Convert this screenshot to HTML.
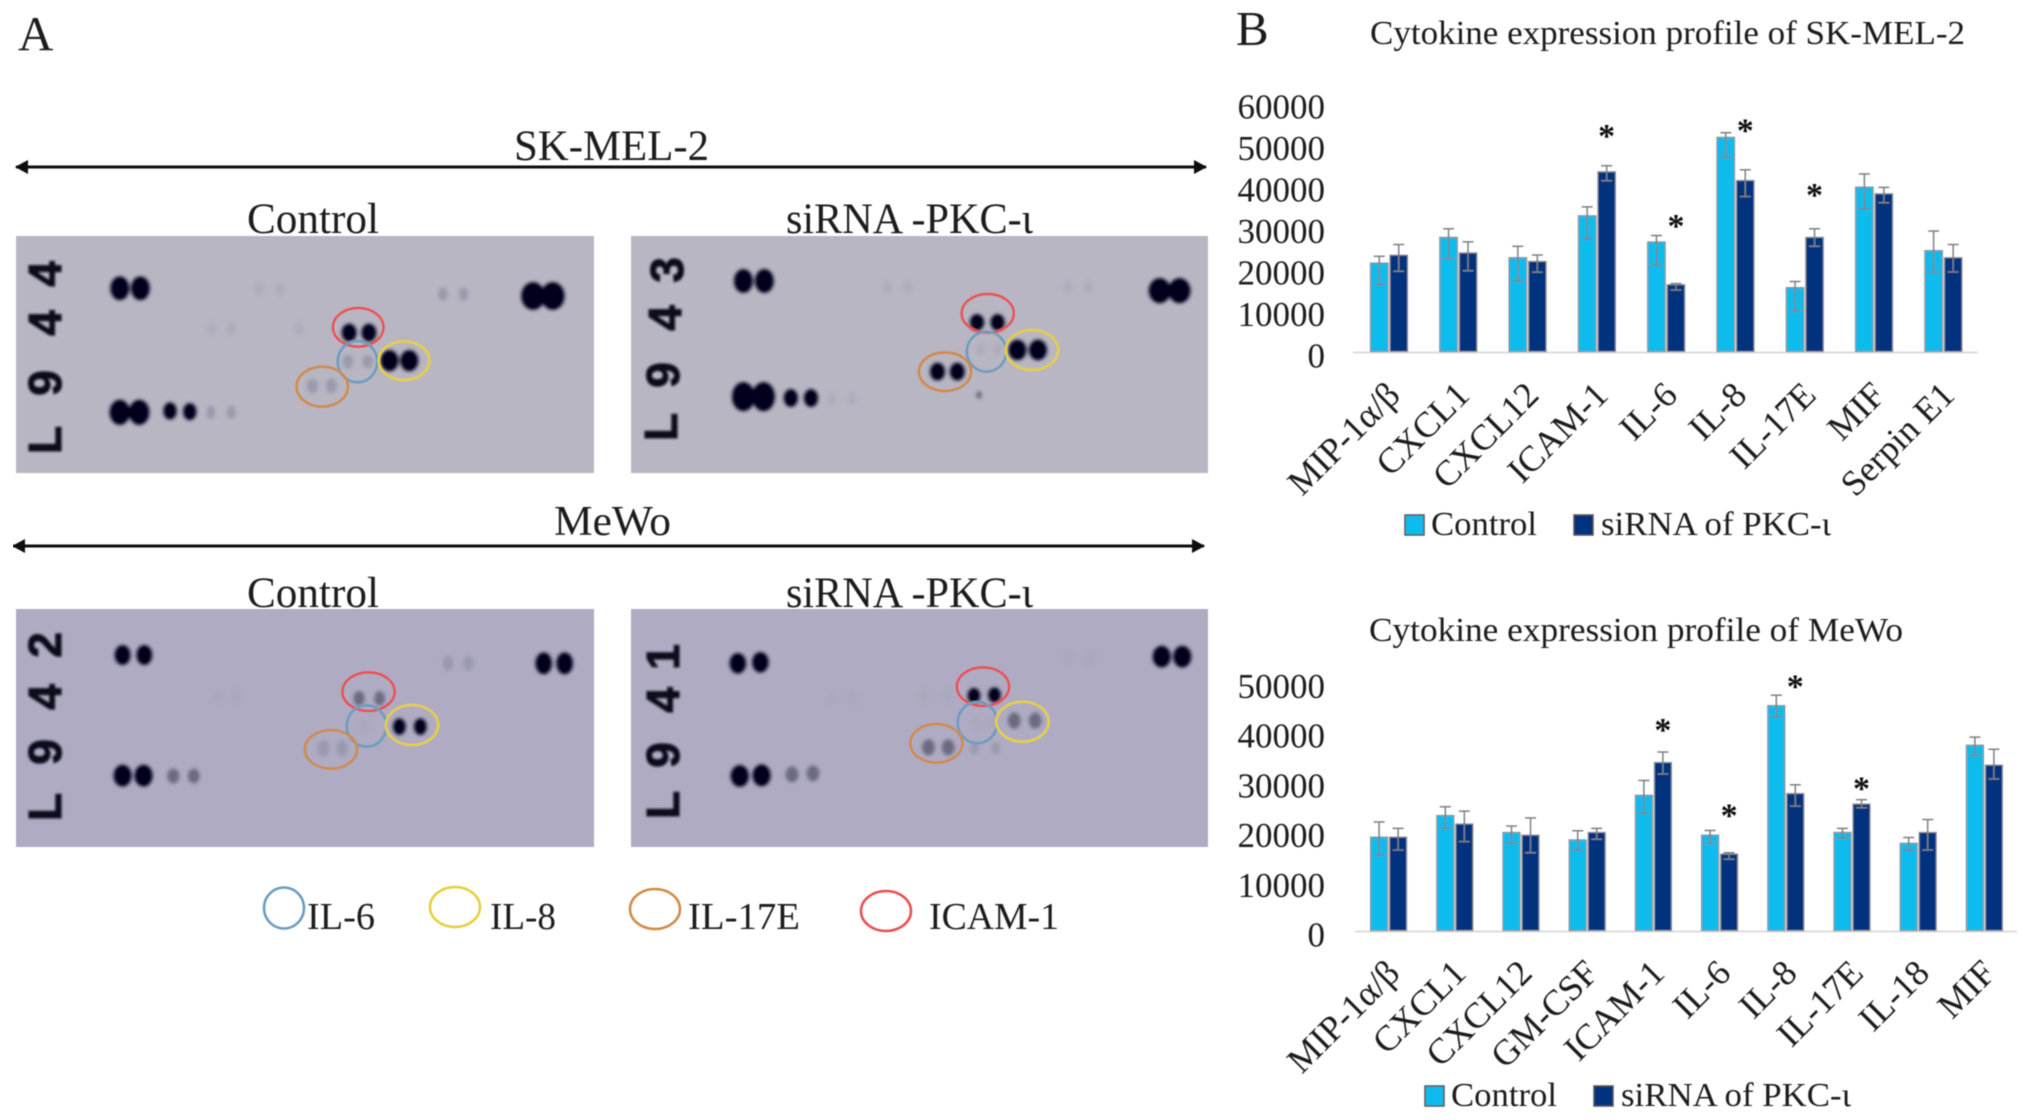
<!DOCTYPE html>
<html lang="en">
<head>
<meta charset="utf-8">
<title>Cytokine array and expression profiles</title>
<style>
html,body{margin:0;padding:0;background:#fff;width:2031px;height:1120px;overflow:hidden}
svg{display:block;font-family:"Liberation Serif",serif}
text{fill:#1c1c1c}
.d{fill:#05051c}.m{fill:#6a6a80}.f{fill:#9a9aac}.v{fill:#a8a6b6;opacity:.6}
.ring{fill:none;stroke-width:2.6;vector-effect:non-scaling-stroke}
.r{stroke:#e8504f}.b{stroke:#6a9cc0}.y{stroke:#e6cf3a}.o{stroke:#d08a45}
.num{font-family:"Liberation Sans",sans-serif;font-weight:bold;font-size:46px;text-anchor:middle;fill:#0a0a1a;stroke:#0a0a1a;stroke-width:1.2}
</style>
</head>
<body>
<svg id="figure" xmlns="http://www.w3.org/2000/svg" width="2031" height="1120" viewBox="0 0 2031 1120">
<defs>
<filter id="soft" x="0" y="0" width="100%" height="100%"><feGaussianBlur stdDeviation="0.55"/></filter>
<filter id="spotblur" x="-20%" y="-20%" width="140%" height="140%"><feGaussianBlur stdDeviation="4.5"/></filter>
<filter id="numblur" x="-20%" y="-20%" width="140%" height="140%"><feGaussianBlur stdDeviation="1"/></filter>
<marker id="arrowhead" markerUnits="userSpaceOnUse" markerWidth="14" markerHeight="16" refX="12" refY="8" orient="auto-start-reverse"><path d="M0 1L13 8L0 15Z" fill="#111"/></marker>
</defs>
<g id="root" filter="url(#soft)">
<text x="18" y="50" font-size="49">A</text>
<text x="1236" y="45" font-size="49">B</text>

<text x="514" y="160" font-size="43" textLength="195" lengthAdjust="spacingAndGlyphs">SK-MEL-2</text>
<line x1="16" y1="167" x2="1206" y2="167" stroke="#111" stroke-width="3" marker-start="url(#arrowhead)" marker-end="url(#arrowhead)"/>
<text x="247" y="233" font-size="43" textLength="132" lengthAdjust="spacingAndGlyphs">Control</text>
<text x="786" y="233" font-size="43" textLength="247" lengthAdjust="spacingAndGlyphs">siRNA -PKC-ι</text>

<text x="554" y="535" font-size="42" textLength="117" lengthAdjust="spacingAndGlyphs">MeWo</text>
<line x1="13" y1="546" x2="1204" y2="546" stroke="#111" stroke-width="3" marker-start="url(#arrowhead)" marker-end="url(#arrowhead)"/>
<text x="247" y="607" font-size="43" textLength="132" lengthAdjust="spacingAndGlyphs">Control</text>
<text x="786" y="607" font-size="43" textLength="247" lengthAdjust="spacingAndGlyphs">siRNA -PKC-ι</text>

<!-- Blot 1 -->
<g>
<rect x="16" y="236" width="578" height="237" fill="#b8b6c3"/>
<g transform="translate(0,120) scale(.3954,.3333)">
<g filter="url(#spotblur)">
<ellipse class="d" cx="303" cy="505" rx="24" ry="36"/><ellipse class="d" cx="355" cy="505" rx="24" ry="36"/>
<ellipse class="v" cx="655" cy="505" rx="12" ry="20"/><ellipse class="v" cx="708" cy="508" rx="12" ry="20"/>
<ellipse class="f" cx="1120" cy="522" rx="12" ry="20"/><ellipse class="f" cx="1172" cy="522" rx="12" ry="20"/>
<ellipse class="d" cx="1348" cy="528" rx="30" ry="42"/><ellipse class="d" cx="1398" cy="528" rx="30" ry="42"/>
<ellipse class="v" cx="535" cy="625" rx="12" ry="20"/><ellipse class="v" cx="585" cy="625" rx="12" ry="20"/><ellipse class="v" cx="755" cy="625" rx="12" ry="20"/>
<ellipse class="d" cx="883" cy="638" rx="19" ry="27"/><ellipse class="d" cx="933" cy="638" rx="19" ry="27"/>
<ellipse class="f" cx="880" cy="725" rx="13" ry="21"/><ellipse class="f" cx="930" cy="725" rx="13" ry="21"/>
<ellipse class="d" cx="985" cy="722" rx="23" ry="32"/><ellipse class="d" cx="1035" cy="722" rx="23" ry="32"/>
<ellipse class="f" cx="790" cy="798" rx="14" ry="22"/><ellipse class="f" cx="838" cy="798" rx="14" ry="22"/>
<ellipse class="d" cx="303" cy="877" rx="26" ry="38"/><ellipse class="d" cx="352" cy="877" rx="26" ry="38"/>
<ellipse class="d" cx="430" cy="873" rx="17" ry="26"/><ellipse class="d" cx="480" cy="875" rx="17" ry="26"/>
<ellipse class="f" cx="533" cy="877" rx="11" ry="20"/><ellipse class="f" cx="585" cy="877" rx="11" ry="20"/>
</g>
<ellipse class="ring r" cx="906" cy="622" rx="64" ry="58"/>
<ellipse class="ring b" cx="904" cy="725" rx="50" ry="62"/>
<ellipse class="ring y" cx="1022" cy="722" rx="64" ry="58"/>
<ellipse class="ring o" cx="815" cy="800" rx="65" ry="60"/>
</g>
<g filter="url(#numblur)">
<text class="num" transform="translate(61,440) rotate(-90)">L</text>
<text class="num" transform="translate(61,383) rotate(-90)">9</text>
<text class="num" transform="translate(61,323) rotate(-90)">4</text>
<text class="num" transform="translate(61,274) rotate(-90)">4</text>
</g>
</g>

<!-- Blot 2 -->
<g>
<rect x="631" y="236" width="577" height="237" fill="#b8b6c3"/>
<g transform="translate(620,120) scale(.3954,.3333)">
<g filter="url(#spotblur)">
<ellipse class="d" cx="312" cy="483" rx="24" ry="36"/><ellipse class="d" cx="365" cy="483" rx="24" ry="36"/>
<ellipse class="v" cx="675" cy="503" rx="12" ry="20"/><ellipse class="v" cx="727" cy="503" rx="12" ry="20"/>
<ellipse class="v" cx="1133" cy="500" rx="12" ry="20"/><ellipse class="v" cx="1185" cy="500" rx="12" ry="20"/>
<ellipse class="d" cx="1365" cy="512" rx="28" ry="38"/><ellipse class="d" cx="1415" cy="512" rx="28" ry="38"/>
<ellipse class="d" cx="903" cy="607" rx="18" ry="25"/><ellipse class="d" cx="955" cy="607" rx="18" ry="25"/>
<ellipse class="v" cx="912" cy="687" rx="12" ry="20"/><ellipse class="v" cx="955" cy="687" rx="12" ry="20"/>
<ellipse class="d" cx="1005" cy="690" rx="23" ry="31"/><ellipse class="d" cx="1057" cy="690" rx="23" ry="31"/>
<ellipse class="d" cx="803" cy="755" rx="19" ry="27"/><ellipse class="d" cx="853" cy="755" rx="19" ry="27"/>
<ellipse class="d" cx="312" cy="830" rx="29" ry="44"/><ellipse class="d" cx="363" cy="830" rx="29" ry="44"/>
<ellipse class="d" cx="432" cy="834" rx="18" ry="27"/><ellipse class="d" cx="483" cy="834" rx="18" ry="27"/>
<ellipse class="v" cx="535" cy="838" rx="11" ry="20"/><ellipse class="v" cx="587" cy="838" rx="11" ry="20"/>
<ellipse class="m" cx="908" cy="825" rx="7" ry="12"/>
</g>
<ellipse class="ring r" cx="930" cy="580" rx="66" ry="58"/>
<ellipse class="ring b" cx="927" cy="695" rx="50" ry="60"/>
<ellipse class="ring y" cx="1042" cy="690" rx="66" ry="60"/>
<ellipse class="ring o" cx="822" cy="755" rx="66" ry="58"/>
</g>
<g filter="url(#numblur)">
<text class="num" transform="translate(677,427) rotate(-90)">L</text>
<text class="num" transform="translate(679,375) rotate(-90)">9</text>
<text class="num" transform="translate(681,318) rotate(-90)">4</text>
<text class="num" transform="translate(683,270) rotate(-90)">3</text>
</g>
</g>

<!-- Blot 3 -->
<g>
<rect x="16" y="609" width="578" height="238" fill="#aeabc3"/>
<g transform="translate(0,500) scale(.3954,.3333)">
<g filter="url(#spotblur)">
<ellipse class="d" cx="310" cy="465" rx="20" ry="30"/><ellipse class="d" cx="365" cy="465" rx="20" ry="30"/>
<ellipse class="f" cx="1133" cy="490" rx="13" ry="22"/><ellipse class="f" cx="1185" cy="490" rx="13" ry="22"/>
<ellipse class="d" cx="1375" cy="490" rx="21" ry="33"/><ellipse class="d" cx="1428" cy="490" rx="21" ry="33"/>
<ellipse class="v" cx="548" cy="590" rx="11" ry="20"/><ellipse class="v" cx="597" cy="590" rx="11" ry="20"/>
<ellipse class="m" cx="908" cy="595" rx="14" ry="22"/><ellipse class="m" cx="960" cy="595" rx="13" ry="22"/>
<ellipse class="v" cx="920" cy="680" rx="12" ry="20"/>
<ellipse class="d" cx="1010" cy="680" rx="16" ry="25"/><ellipse class="d" cx="1063" cy="680" rx="16" ry="25"/>
<ellipse class="f" cx="818" cy="745" rx="15" ry="25"/><ellipse class="f" cx="865" cy="745" rx="14" ry="25"/>
<ellipse class="d" cx="310" cy="827" rx="23" ry="33"/><ellipse class="d" cx="363" cy="827" rx="23" ry="33"/>
<ellipse class="m" cx="438" cy="828" rx="15" ry="22"/><ellipse class="m" cx="490" cy="828" rx="15" ry="22"/>
</g>
<ellipse class="ring r" cx="932" cy="575" rx="66" ry="58"/>
<ellipse class="ring b" cx="927" cy="678" rx="50" ry="62"/>
<ellipse class="ring y" cx="1042" cy="675" rx="66" ry="60"/>
<ellipse class="ring o" cx="837" cy="748" rx="66" ry="58"/>
</g>
<g filter="url(#numblur)">
<text class="num" transform="translate(61,807) rotate(-90)">L</text>
<text class="num" transform="translate(61,752) rotate(-90)">9</text>
<text class="num" transform="translate(61,697) rotate(-90)">4</text>
<text class="num" transform="translate(61,645) rotate(-90)">2</text>
</g>
</g>

<!-- Blot 4 -->
<g>
<rect x="631" y="609" width="577" height="238" fill="#aeabc3"/>
<g transform="translate(620,500) scale(.3954,.3333)">
<g filter="url(#spotblur)">
<ellipse class="d" cx="298" cy="490" rx="21" ry="31"/><ellipse class="d" cx="355" cy="487" rx="21" ry="31"/>
<ellipse class="v" cx="1135" cy="475" rx="13" ry="22"/><ellipse class="v" cx="1187" cy="475" rx="13" ry="22"/>
<ellipse class="d" cx="1370" cy="470" rx="23" ry="33"/><ellipse class="d" cx="1422" cy="470" rx="23" ry="33"/>
<ellipse class="v" cx="535" cy="595" rx="11" ry="20"/><ellipse class="v" cx="590" cy="595" rx="11" ry="20"/>
<ellipse class="v" cx="765" cy="590" rx="12" ry="20"/><ellipse class="v" cx="825" cy="590" rx="12" ry="20"/>
<ellipse class="d" cx="895" cy="587" rx="16" ry="23"/><ellipse class="d" cx="947" cy="585" rx="16" ry="23"/>
<ellipse class="v" cx="900" cy="668" rx="11" ry="20"/><ellipse class="v" cx="945" cy="668" rx="11" ry="20"/>
<ellipse class="m" cx="997" cy="662" rx="16" ry="24"/><ellipse class="m" cx="1050" cy="662" rx="16" ry="24"/>
<ellipse class="m" cx="780" cy="742" rx="16" ry="24"/><ellipse class="m" cx="830" cy="742" rx="16" ry="24"/>
<ellipse class="f" cx="897" cy="745" rx="11" ry="18"/><ellipse class="f" cx="950" cy="745" rx="11" ry="18"/>
<ellipse class="d" cx="303" cy="828" rx="23" ry="33"/><ellipse class="d" cx="358" cy="826" rx="23" ry="33"/>
<ellipse class="m" cx="435" cy="823" rx="16" ry="24"/><ellipse class="m" cx="488" cy="820" rx="16" ry="24"/>
</g>
<ellipse class="ring r" cx="918" cy="560" rx="66" ry="58"/>
<ellipse class="ring b" cx="904" cy="668" rx="50" ry="62"/>
<ellipse class="ring y" cx="1018" cy="665" rx="66" ry="60"/>
<ellipse class="ring o" cx="800" cy="730" rx="66" ry="58"/>
</g>
<g filter="url(#numblur)">
<text class="num" transform="translate(679,805) rotate(-90)">L</text>
<text class="num" transform="translate(679,755) rotate(-90)">9</text>
<text class="num" transform="translate(679,700) rotate(-90)">4</text>
<text class="num" transform="translate(679,657) rotate(-90)">1</text>
</g>
</g>

<!-- Ring legend -->
<g>
<g><ellipse class="ring b" cx="284" cy="908" rx="20" ry="20.5"/><text x="307" y="929" font-size="38" textLength="68" lengthAdjust="spacingAndGlyphs">IL-6</text></g>
<g><ellipse class="ring y" cx="455" cy="907" rx="25" ry="20"/><text x="490" y="929" font-size="38" textLength="66" lengthAdjust="spacingAndGlyphs">IL-8</text></g>
<g><ellipse class="ring o" cx="655" cy="909" rx="25" ry="20"/><text x="688" y="929" font-size="38" textLength="112" lengthAdjust="spacingAndGlyphs">IL-17E</text></g>
<g><ellipse class="ring r" cx="886" cy="911" rx="25" ry="20"/><text x="929" y="929" font-size="38" textLength="130" lengthAdjust="spacingAndGlyphs">ICAM-1</text></g>
</g>

<g id="chart-sk"></g>
<g id="chart-mewo"></g>
</g>
</svg>
<script>
var skCategories = ['MIP-1α/β','CXCL1','CXCL12','ICAM-1','IL-6','IL-8','IL-17E','MIF','Serpin E1'];
var skControl = [21300,27500,22600,32700,26400,51600,15400,39600,24300];
var skSirna = [23200,23750,21700,43300,16100,41200,27500,38000,22600];
var skControlErrUp = [1640,2070,2750,2150,1550,1120,1460,3180,4730];
var skSirnaErrUp = [2580,2670,1550,1460,260,2580,2070,1550,3180];
var skControlErrDown = [5160,5160,5600,5600,5600,4730,5600,5160,5160];
var skSirnaErrDown = [3870,4300,2580,2150,1290,3870,2150,2150,3440];
var skStars = [null,null,null,53100,31400,54400,38900,null,null];
var skTicks = [0,10000,20000,30000,40000,50000,60000];

var mwCategories = ['MIP-1α/β','CXCL1','CXCL12','GM-CSF','ICAM-1','IL-6','IL-8','IL-17E','IL-18','MIF'];
var mwControl = [18780,23130,19730,18230,27200,19180,45240,19730,17550,37280];
var mwSirna = [18780,21430,19180,19730,33800,15370,27550,25440,19730,33270];
var mwControlErrUp = [3060,1770,1290,1840,2990,950,2110,820,1160,1630];
var mwSirnaErrUp = [1770,2590,3470,820,2110,270,1770,880,2590,3200];
var mwControlErrDown = [3600,2500,2180,2040,3540,1630,2180,1160,1360,2040];
var mwSirnaErrDown = [2590,3540,3540,1360,2310,1020,2520,750,3540,2790];
var mwStars = [null,null,null,null,41360,24150,50140,29590,null,null];
var mwTicks = [0,10000,20000,30000,40000,50000];

var NS = 'http://www.w3.org/2000/svg';
var CONTROL_FILL = '#10bbec', SIRNA_FILL = '#04307e', EDGE = '#8a8f96', ERR = '#7c8084';

function mk(tag, parent) {
  var el = document.createElementNS(NS, tag);
  parent.appendChild(el);
  return el;
}

function put(el, a, b, c, d) {
  var names = el.tagName === 'rect' ? ['x','y','width','height'] : ['x1','y1','x2','y2'];
  el.setAttribute(names[0], a);
  el.setAttribute(names[1], b);
  el.setAttribute(names[2], c);
  el.setAttribute(names[3], d);
}

function drawErr(g, cx, y, top, bottom) {
  var stem = mk('line', g);
  
  
  put(stem, cx, y(top), cx, y(bottom));
  stem.setAttribute('stroke', ERR);
  stem.setAttribute('stroke-width', '1.5');
  var capTop = mk('line', g);
  
  
  put(capTop, cx - 5.5, y(top), cx + 5.5, y(top));
  capTop.setAttribute('stroke', ERR);
  capTop.setAttribute('stroke-width', '1.5');
  var capLow = mk('line', g);
  
  
  put(capLow, cx - 5.5, y(bottom), cx + 5.5, y(bottom));
  capLow.setAttribute('stroke', ERR);
  capLow.setAttribute('stroke-width', '1.5');
}

function drawSeries(g, cats, vals, up, down, x, y, base, barW, fill, seriesName, offset) {
  for (var i = 0; i < cats.length; i++) {
    var left = x(i) + offset;
    var bar = mk('rect', g);
    
    
    put(bar, left, y(vals[i]), barW, base - y(vals[i]));
    bar.setAttribute('fill', fill);
    bar.setAttribute('stroke', EDGE);
    bar.setAttribute('stroke-width', '1.2');
    drawErr(g, left + barW / 2, y, vals[i] + up[i], vals[i] - down[i]);
  }
}

function drawChart(host, o) {
  function x(i) { return o.x0 + i * o.step; }
  function y(v) { return o.base - v * o.pxPerUnit; }

  var title = mk('text', host);
  
  
  title.setAttribute('x', o.titleX);
  title.setAttribute('y', o.titleY);
  title.setAttribute('font-size', '34');
  title.setAttribute('textLength', o.titleW);
  title.setAttribute('lengthAdjust', 'spacingAndGlyphs');
  title.textContent = o.title;

  o.ticks.forEach(function (t) {
    var lab = mk('text', host);
    
    
    lab.setAttribute('x', 1325);
    lab.setAttribute('y', y(t) + 16);
    lab.setAttribute('text-anchor', 'end');
    lab.setAttribute('font-size', '35');
    lab.textContent = String(t);
  });

  var axis = mk('line', host);
  
  
  put(axis, o.axisX1, o.base + 1, o.axisX2, o.base + 1);
  axis.setAttribute('stroke', '#dcdcdc');
  axis.setAttribute('stroke-width', '2');

  drawSeries(host, o.cats, o.control, o.controlUp, o.controlDown, x, y, o.base, o.barW, CONTROL_FILL, 'control', -o.barW - 1);
  drawSeries(host, o.cats, o.sirna, o.sirnaUp, o.sirnaDown, x, y, o.base, o.barW, SIRNA_FILL, 'sirna', 1);

  o.cats.forEach(function (c, i) {
    var lab = mk('text', host);
    
    
    lab.setAttribute('text-anchor', 'end');
    lab.setAttribute('font-size', '36');
    lab.setAttribute('transform', 'translate(' + (x(i) + 13) + ',' + o.labelY + ') rotate(-45)');
    lab.textContent = c;
  });

  o.stars.forEach(function (s, i) {
    if (s === null) return;
    var st = mk('text', host);
    
    
    st.setAttribute('x', x(i) + 1 + o.barW / 2);
    st.setAttribute('y', y(s) + 16);
    st.setAttribute('text-anchor', 'middle');
    st.setAttribute('font-size', '34');
    st.setAttribute('font-weight', 'bold');
    st.setAttribute('style', 'fill:#111');
    st.textContent = '*';
  });

  var legend = mk('g', host);
  
  
  var sw1 = mk('rect', legend);
  
  
  put(sw1, o.legX1, o.legY - 20, 19, 20);
  sw1.setAttribute('fill', CONTROL_FILL);
  sw1.setAttribute('stroke', '#555');
  sw1.setAttribute('stroke-width', '1.5');
  var t1 = mk('text', legend);
  
  
  t1.setAttribute('x', o.legX1 + 26);
  t1.setAttribute('y', o.legY);
  t1.setAttribute('font-size', '34');
  t1.setAttribute('textLength', '106');
  t1.setAttribute('lengthAdjust', 'spacingAndGlyphs');
  t1.textContent = 'Control';
  var sw2 = mk('rect', legend);
  
  
  put(sw2, o.legX2, o.legY - 20, 19, 20);
  sw2.setAttribute('fill', SIRNA_FILL);
  sw2.setAttribute('stroke', '#555');
  sw2.setAttribute('stroke-width', '1.5');
  var t2 = mk('text', legend);
  
  
  t2.setAttribute('x', o.legX2 + 27);
  t2.setAttribute('y', o.legY);
  t2.setAttribute('font-size', '34');
  t2.setAttribute('textLength', '230');
  t2.setAttribute('lengthAdjust', 'spacingAndGlyphs');
  t2.textContent = 'siRNA of PKC-ι';
}

drawChart(document.getElementById('chart-sk'), {
  title: 'Cytokine expression profile of SK-MEL-2', titleX: 1370, titleY: 44, titleW: 595,
  cats: skCategories, control: skControl, sirna: skSirna,
  controlUp: skControlErrUp, sirnaUp: skSirnaErrUp, controlDown: skControlErrDown, sirnaDown: skSirnaErrDown,
  stars: skStars, ticks: skTicks,
  x0: 1389, step: 69.3, barW: 17.5, base: 351.5, pxPerUnit: 41.5 / 10000,
  axisX1: 1353, axisX2: 1978, labelY: 397, legX1: 1405, legX2: 1574, legY: 535
});

drawChart(document.getElementById('chart-mewo'), {
  title: 'Cytokine expression profile of MeWo', titleX: 1369, titleY: 641, titleW: 534,
  cats: mwCategories, control: mwControl, sirna: mwSirna,
  controlUp: mwControlErrUp, sirnaUp: mwSirnaErrUp, controlDown: mwControlErrDown, sirnaDown: mwSirnaErrDown,
  stars: mwStars, ticks: mwTicks,
  x0: 1388.6, step: 66.2, barW: 17, base: 930.5, pxPerUnit: 49.7 / 10000,
  axisX1: 1355, axisX2: 2017, labelY: 975, legX1: 1425, legX2: 1594, legY: 1106
});
</script>
</body>
</html>
